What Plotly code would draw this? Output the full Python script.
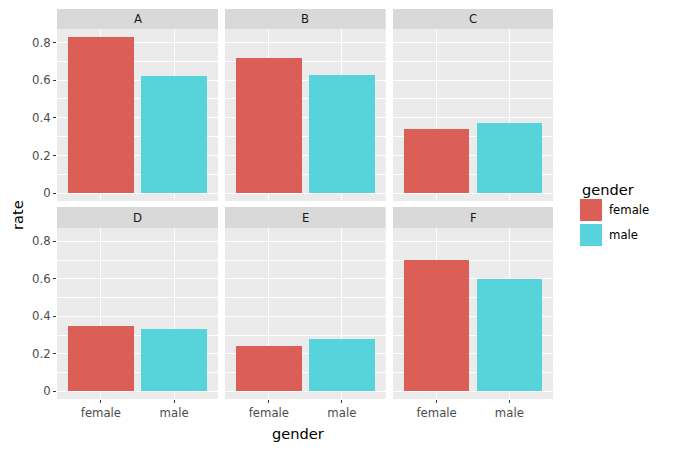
import plotly.graph_objects as go

# ---------------- data ----------------
departments = ["A", "B", "C", "D", "E", "F"]
genders = ["female", "male"]
female_rate = [0.83, 0.72, 0.34, 0.35, 0.24, 0.70]
male_rate = [0.62, 0.63, 0.37, 0.33, 0.28, 0.60]
y_tick_vals = [0, 0.2, 0.4, 0.6, 0.8]
y_tick_text = ["0", "0.2", "0.4", "0.6", "0.8"]
gender_colors = ["#DB5F57", "#57D3DB"]

# ---------------- layout geometry (screen pixels) ----------------
OFF = 8                     # page body margin
W, H = 675 - OFF, 450 - OFF  # figure size so the page fits the window


def px_x(p):
    return (p - OFF) / W


def px_y(p):
    return 1 - (p - OFF) / H


col_px = [(57, 218), (225, 385.7), (393, 553)]
row_px = [(29, 201), (228, 399)]
strip_px = [(9, 29), (207, 228)]
FONT = "DejaVu Sans"
TICK_FS = 11.7
TITLE_FS = 14.6

ymax = max(female_rate + male_rate)
yrange = [-0.05 * ymax, 1.05 * ymax]

fig = go.Figure()
shapes = []
annotations = []
layout_axes = {}

for i, dept in enumerate(departments):
    r, c = divmod(i, 3)
    idx = i + 1
    xn = "x" if idx == 1 else f"x{idx}"
    yn = "y" if idx == 1 else f"y{idx}"
    xkey = "xaxis" if idx == 1 else f"xaxis{idx}"
    ykey = "yaxis" if idx == 1 else f"yaxis{idx}"

    fig.add_trace(go.Bar(
        x=genders,
        y=[female_rate[i], male_rate[i]],
        marker=dict(color=gender_colors, line=dict(width=0)),
        width=0.9,
        xaxis=xn, yaxis=yn,
        showlegend=False,
        hoverinfo="x+y",
    ))

    x0, x1 = col_px[c]
    p0, p1 = row_px[r]
    layout_axes[xkey] = dict(
        domain=[px_x(x0), px_x(x1)],
        anchor=yn,
        type="category",
        categoryorder="array",
        categoryarray=genders,
        range=[-0.6, 1.6],
        showgrid=True, gridcolor="white", gridwidth=1.3,
        zeroline=False, showline=False,
        showticklabels=(r == 1),
        ticks="outside" if r == 1 else "",
        ticklen=3, tickwidth=1, tickcolor="#333333",
        tickfont=dict(family=FONT, size=TICK_FS, color="#4D4D4D"),
        automargin=False,
        fixedrange=True,
    )
    layout_axes[ykey] = dict(
        domain=[px_y(p1), px_y(p0)],
        anchor=xn,
        range=yrange,
        tickmode="array",
        tickvals=y_tick_vals,
        ticktext=y_tick_text,
        showgrid=True, gridcolor="white", gridwidth=1.3,
        minor=dict(dtick=0.1, tick0=0, showgrid=True, gridcolor="white",
                   gridwidth=0.6, ticks=""),
        zeroline=False, showline=False,
        showticklabels=(c == 0),
        ticks="outside" if c == 0 else "",
        ticklen=3, tickwidth=1, tickcolor="#333333",
        tickfont=dict(family=FONT, size=TICK_FS, color="#4D4D4D"),
        automargin=False,
        fixedrange=True,
    )

    s0, s1 = strip_px[r]
    shapes.append(dict(
        type="rect", xref=f"{xn} domain", yref="paper",
        x0=0, x1=1, y0=px_y(s1), y1=px_y(s0),
        fillcolor="#D9D9D9", line=dict(width=0), layer="below",
    ))
    annotations.append(dict(
        text=dept, xref=f"{xn} domain", yref="paper",
        x=0.5, y=px_y((s0 + s1) / 2), xanchor="center", yanchor="middle",
        showarrow=False, font=dict(family=FONT, size=TICK_FS, color="#1A1A1A"),
    ))

# axis titles
annotations.append(dict(
    text="gender", xref="paper", yref="paper", x=px_x(297.5), y=px_y(433),
    xanchor="center", yanchor="middle", showarrow=False,
    font=dict(family=FONT, size=TITLE_FS, color="black"),
))
annotations.append(dict(
    text="rate", xref="paper", yref="paper", x=px_x(17), y=px_y(215),
    xanchor="center", yanchor="middle", showarrow=False, textangle=-90,
    font=dict(family=FONT, size=TITLE_FS, color="black"),
))

# legend (drawn manually to match ggplot key size)
annotations.append(dict(
    text="gender", xref="paper", yref="paper", x=px_x(580), y=px_y(189),
    xanchor="left", yanchor="middle", showarrow=False,
    font=dict(family=FONT, size=TITLE_FS, color="black"),
))
key_top = [199, 224]
for g, col, kt in zip(genders, gender_colors, key_top):
    shapes.append(dict(
        type="rect", xref="paper", yref="paper",
        x0=px_x(580), x1=px_x(602), y0=px_y(kt + 22), y1=px_y(kt),
        fillcolor=col, line=dict(width=0),
    ))
    annotations.append(dict(
        text=g, xref="paper", yref="paper", x=px_x(607), y=px_y(kt + 11),
        xanchor="left", yanchor="middle", showarrow=False,
        font=dict(family=FONT, size=TICK_FS, color="black"),
    ))

fig.update_layout(
    width=W, height=H, autosize=False,
    margin=dict(l=0, r=0, t=0, b=0),
    paper_bgcolor="white",
    plot_bgcolor="#EBEBEB",
    showlegend=False,
    bargap=0,
    shapes=shapes,
    annotations=annotations,
    font=dict(family=FONT),
    **layout_axes,
)

fig.write_html("out.html")
